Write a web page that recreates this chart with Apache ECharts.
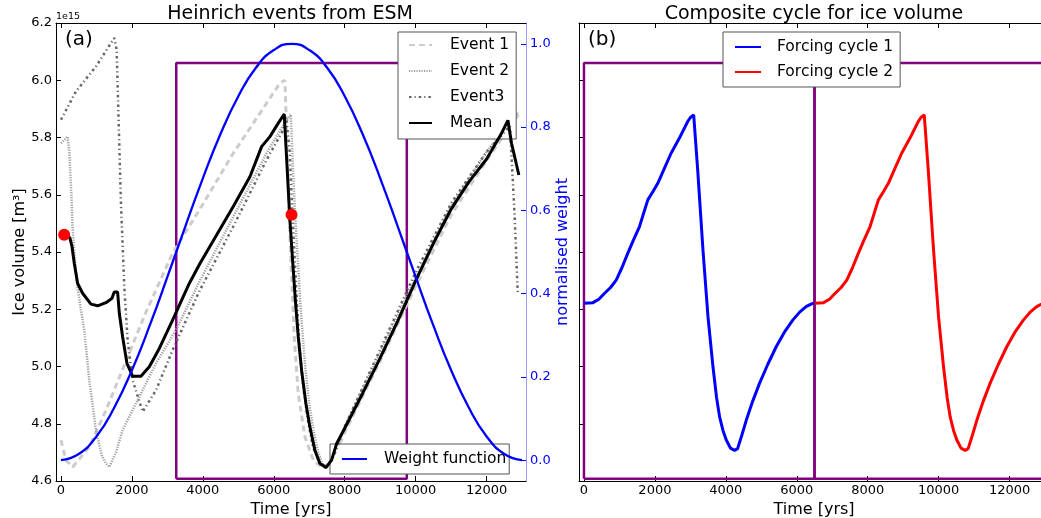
<!DOCTYPE html>
<html>
<head>
<meta charset="utf-8">
<script src="https://cdn.jsdelivr.net/npm/echarts@6/dist/echarts.min.js"></script>
<style>
html,body{margin:0;padding:0;background:#fff;}
#chart{width:1041px;height:518px;}
</style>
</head>
<body>
<div id="chart"></div>
<script>
// ---- Data (ice volume in units of 1e15 m^3, time in years) ----
const xTicks = [0, 2000, 4000, 6000, 8000, 10000, 12000];
const weightTicks = [0, 0.2, 0.4, 0.6, 0.8, 1.0];

const event1Time = [0,141,330,798,1268,1738,2396,2678,3147,3918,4857,5797,6172,6313,6341,6407,6474,6576,6689,6877,7112,7394,7650,8000,9000,10000,11000,12000,12500,12900];
const event1Ice  = [4.743,4.673,4.649,4.719,4.847,4.99,5.19,5.267,5.396,5.55,5.745,5.92,5.99,6.0,5.897,5.629,5.396,5.104,4.906,4.754,4.673,4.643,4.675,4.77,5.02,5.28,5.53,5.72,5.81,5.88];

const event2Time = [0,190,235,300,330,440,560,657,798,986,1150,1268,1362,1550,1738,2207,2678,3241,3918,4857,5797,6200,6480,6540,6610,6680,6750,6820,6900,7000,7100,7230,7350,7480,7700,8000,9000,10000,11000,12000,12500,12900];
const event2Ice  = [5.78,5.803,5.75,5.58,5.477,5.302,5.2,5.127,4.952,4.778,4.69,4.661,4.649,4.70,4.778,4.894,5.011,5.127,5.3,5.523,5.745,5.83,5.88,5.69,5.51,5.37,5.22,5.10,4.98,4.87,4.79,4.71,4.665,4.645,4.69,4.79,5.05,5.31,5.56,5.75,5.83,5.89];

const event3Time = [0,423,987,1503,1569,1625,1691,1785,1879,2020,2302,2678,3147,3617,3918,4857,5797,6266,6350,6450,6500,6560,6640,6720,6830,6950,7100,7300,7500,7700,8000,9000,10000,11000,12000,12656,12700,12795,12880];
const event3Ice  = [5.862,5.961,6.048,6.148,6.107,5.862,5.57,5.279,5.092,4.952,4.842,4.917,5.057,5.186,5.267,5.489,5.722,5.827,5.87,5.75,5.6,5.45,5.25,5.08,4.93,4.82,4.72,4.66,4.65,4.69,4.79,5.06,5.33,5.57,5.75,5.84,5.74,5.512,5.25];

const meanTime = [0,150,250,310,376,470,610,845,1034,1268,1437,1503,1597,1645,1738,1860,2020,2255,2490,2772,3147,3617,3918,4857,5327,5656,5891,6100,6294,6379,6454,6529,6614,6689,6783,6905,7018,7159,7300,7469,7629,7770,8004,8500,9000,9500,10000,10500,11000,11500,12000,12421,12600,12702,12909];
const meanIce  = [5.46,5.458,5.45,5.42,5.36,5.29,5.256,5.218,5.212,5.223,5.238,5.26,5.26,5.186,5.104,5.011,4.966,4.966,4.999,5.063,5.162,5.29,5.36,5.559,5.663,5.768,5.803,5.845,5.882,5.687,5.512,5.372,5.221,5.104,4.987,4.871,4.789,4.707,4.661,4.647,4.673,4.73,4.785,4.905,5.03,5.16,5.3,5.43,5.55,5.645,5.725,5.815,5.86,5.78,5.669];

const markerTime = [90, 6500];
const markerIce  = [5.46, 5.53];

const weightTime = [0,500,1000,1500,2000,2500,3000,3500,4000,4500,5000,5500,6000,6500,7000,7500,8000,8500,9000,9500,10000,10500,11000,11500,12000,12500,13000];
const weightValue = [0,0.015,0.057,0.126,0.216,0.323,0.44,0.56,0.677,0.784,0.874,0.943,0.985,1.0,0.985,0.943,0.874,0.784,0.677,0.56,0.44,0.323,0.216,0.126,0.057,0.015,0];

const windowATime = [3250,3250,9750,9750,3250];
const windowAIce  = [4.608,6.06,6.06,4.608,4.608];
const windowB1Time = [0,0,6500,6500,0];
const windowB2Time = [6500,6500,13000,13000,6500];
const windowBIce  = [4.608,6.06,6.06,4.608,4.608];

const cycle1Time = [0,253,420,582,750,909,1070,1237,1400,1566,1800,1950,2081,2270,2456,2691,2925,3000,3093,3206,3355,3496,3637,3740,3824,3920,4012,4130,4246,4331,4450,4575,4760,4949,5180,5419,5650,5886,6080,6262,6400,6500];
const cycle1Ice  = [5.221,5.223,5.235,5.256,5.276,5.302,5.345,5.396,5.443,5.489,5.582,5.612,5.64,5.693,5.745,5.798,5.856,5.87,5.879,5.687,5.407,5.174,4.999,4.89,4.824,4.776,4.743,4.715,4.707,4.713,4.76,4.812,4.88,4.941,5.007,5.069,5.12,5.162,5.19,5.209,5.218,5.222];
const cycle2Time = [6500,6753,6920,7082,7250,7409,7570,7737,7900,8066,8300,8450,8581,8770,8956,9191,9425,9500,9593,9706,9855,9996,10137,10240,10324,10420,10512,10630,10746,10831,10950,11075,11260,11449,11680,11919,12150,12386,12580,12762,12900,13000];
const cycle2Ice  = [5.221,5.223,5.235,5.256,5.276,5.302,5.345,5.396,5.443,5.489,5.582,5.612,5.64,5.693,5.745,5.798,5.856,5.87,5.879,5.687,5.407,5.174,4.999,4.89,4.824,4.776,4.743,4.715,4.707,4.713,4.76,4.812,4.88,4.941,5.007,5.069,5.12,5.162,5.19,5.209,5.218,5.222];

// ---- Build ----
const zip = (a, b) => a.map((x, i) => [x, b[i]]);
const FONT = 'DejaVu Sans';
const XMIN = -140, XMAX = 13110;

function xAxisDef(grid, pos, labels) {
  return {
    type: 'value', gridIndex: grid, position: pos, min: XMIN, max: XMAX,
    splitLine: {show: false},
    axisLine: {show: true, onZero: false, lineStyle: {color: '#000', width: 1}},
    axisTick: {show: true, inside: true, length: 5, customValues: xTicks, lineStyle: {color: '#000'}},
    axisLabel: {show: labels, customValues: xTicks, fontFamily: FONT, fontSize: 13, color: '#000', margin: 3,
                formatter: v => String(Math.round(v))},
    name: labels ? 'Time [yrs]' : '', nameLocation: 'middle', nameGap: 18,
    nameTextStyle: {fontFamily: FONT, fontSize: 16, color: '#000'}
  };
}

const legendCommon = {
  orient: 'vertical', backgroundColor: '#fff', borderColor: '#555', borderWidth: 1, borderRadius: 0,
  itemStyle: {opacity: 0}, selectedMode: false
};

const chart = echarts.init(document.getElementById('chart'), null, {renderer: 'canvas'});
const option = {
  animation: false,
  backgroundColor: '#fff',
  grid: [
    {left: 56, top: 23, width: 470, height: 458, containLabel: false, outerBoundsMode: 'none'},
    {left: 579, top: 23, width: 470, height: 458, containLabel: false, outerBoundsMode: 'none'}
  ],
  xAxis: [
    xAxisDef(0, 'bottom', true),
    xAxisDef(0, 'top', false),
    xAxisDef(1, 'bottom', true),
    xAxisDef(1, 'top', false)
  ],
  yAxis: [
    {
      type: 'value', gridIndex: 0, position: 'left', min: 4.6, max: 6.2, interval: 0.2,
      splitLine: {show: false},
      axisLine: {show: true, onZero: false, lineStyle: {color: '#000'}},
      axisTick: {show: true, inside: true, length: 5, lineStyle: {color: '#000'}},
      axisLabel: {fontFamily: FONT, fontSize: 13, color: '#000', margin: 4, formatter: v => v.toFixed(1)},
      name: 'Ice volume [m³]', nameLocation: 'middle', nameRotate: 90, nameGap: 28,
      nameTextStyle: {fontFamily: FONT, fontSize: 16, color: '#000'}
    },
    {
      type: 'value', gridIndex: 0, position: 'right', min: -0.05, max: 1.05,
      splitLine: {show: false},
      axisLine: {show: true, onZero: false, lineStyle: {color: '#9999ff'}},
      axisTick: {show: true, inside: true, length: 5, customValues: weightTicks, lineStyle: {color: '#0000ff'}},
      axisLabel: {customValues: weightTicks, fontFamily: FONT, fontSize: 13, color: '#0000ff', margin: 4, formatter: v => v.toFixed(1)},
      name: 'normalised weight', nameLocation: 'middle', nameRotate: 90, nameGap: 29,
      nameTextStyle: {fontFamily: FONT, fontSize: 16, color: '#0000ff'}
    },
    {
      type: 'value', gridIndex: 1, position: 'left', min: 4.6, max: 6.2, interval: 0.2,
      splitLine: {show: false},
      axisLine: {show: true, onZero: false, lineStyle: {color: '#000'}},
      axisTick: {show: true, inside: true, length: 5, lineStyle: {color: '#000'}},
      axisLabel: {show: false}
    }
  ],
  legend: [
    Object.assign({}, legendCommon, {
      data: ['Event 1', 'Event 2', 'Event3', 'Mean'],
      left: 398, top: 32,
      padding: [5, 7, 8, 10], itemGap: 10, itemWidth: 23, itemHeight: 14,
      textStyle: {fontFamily: FONT, fontSize: 15.5, color: '#000', padding: [0, 0, 0, 13]}
    }),
    Object.assign({}, legendCommon, {
      data: ['Weight function'],
      left: 330, top: 444,
      padding: [7, 3, 7, 11], itemWidth: 25, itemHeight: 14,
      textStyle: {fontFamily: FONT, fontSize: 15.5, color: '#000', padding: [0, 0, 0, 12]}
    }),
    Object.assign({}, legendCommon, {
      data: ['Forcing cycle 1', 'Forcing cycle 2'],
      left: 723, top: 32,
      padding: [7, 7, 7, 11], itemGap: 9, itemWidth: 26, itemHeight: 14,
      textStyle: {fontFamily: FONT, fontSize: 15.5, color: '#000', padding: [0, 0, 0, 11]}
    })
  ],
  graphic: [
    {type: 'text', x: 290, y: 14, style: {text: 'Heinrich events from ESM', fontFamily: FONT, fontSize: 19, fill: '#000', align: 'center', verticalAlign: 'middle'}},
    {type: 'text', x: 814, y: 14, style: {text: 'Composite cycle for ice volume', fontFamily: FONT, fontSize: 19, fill: '#000', align: 'center', verticalAlign: 'middle'}},
    {type: 'text', x: 65, y: 40, style: {text: '(a)', fontFamily: FONT, fontSize: 20, fill: '#000', align: 'left', verticalAlign: 'middle'}},
    {type: 'text', x: 588, y: 40, style: {text: '(b)', fontFamily: FONT, fontSize: 20, fill: '#000', align: 'left', verticalAlign: 'middle'}},
    {type: 'text', x: 56, y: 17, style: {text: '1e15', fontFamily: FONT, fontSize: 9.5, fill: '#000', align: 'left', verticalAlign: 'middle'}}
  ],
  series: [
    {name: 'windowA', type: 'line', xAxisIndex: 0, yAxisIndex: 0, symbol: 'none', data: zip(windowATime, windowAIce),
     lineStyle: {color: '#800080', width: 2.5}, z: 1},
    {name: 'Event 1', type: 'line', xAxisIndex: 0, yAxisIndex: 0, symbol: 'none', data: zip(event1Time, event1Ice),
     lineStyle: {color: '#cccccc', width: 3, type: [6, 4]}, itemStyle: {color: '#cccccc'}, z: 2},
    {name: 'Event 2', type: 'line', xAxisIndex: 0, yAxisIndex: 0, symbol: 'none', data: zip(event2Time, event2Ice),
     lineStyle: {color: '#a0a0a0', width: 2.5, type: [1.2, 1.3]}, itemStyle: {color: '#a0a0a0'}, z: 3},
    {name: 'Event3', type: 'line', xAxisIndex: 0, yAxisIndex: 0, symbol: 'none', data: zip(event3Time, event3Ice),
     lineStyle: {color: '#666666', width: 2.5, type: [2.5, 3, 1.2, 3]}, itemStyle: {color: '#666666'}, z: 4},
    {name: 'Mean', type: 'line', xAxisIndex: 0, yAxisIndex: 0, symbol: 'none', data: zip(meanTime, meanIce),
     lineStyle: {color: '#000', width: 3}, itemStyle: {color: '#000'}, z: 5},
    {name: 'markers', type: 'scatter', xAxisIndex: 0, yAxisIndex: 0, data: zip(markerTime, markerIce),
     symbolSize: 12, itemStyle: {color: '#ff0000', opacity: 1}, z: 6},
    {name: 'Weight function', type: 'line', xAxisIndex: 0, yAxisIndex: 1, symbol: 'none', smooth: true, data: zip(weightTime, weightValue),
     lineStyle: {color: '#0000ff', width: 2.3}, itemStyle: {color: '#0000ff'}, z: 7},
    {name: 'windowB1', type: 'line', xAxisIndex: 2, yAxisIndex: 2, symbol: 'none', data: zip(windowB1Time, windowBIce),
     lineStyle: {color: '#800080', width: 2.5}, z: 1},
    {name: 'windowB2', type: 'line', xAxisIndex: 2, yAxisIndex: 2, symbol: 'none', data: zip(windowB2Time, windowBIce),
     lineStyle: {color: '#800080', width: 2.5}, z: 1},
    {name: 'Forcing cycle 1', type: 'line', xAxisIndex: 2, yAxisIndex: 2, symbol: 'none', data: zip(cycle1Time, cycle1Ice),
     lineStyle: {color: '#0000ff', width: 3}, itemStyle: {color: '#0000ff'}, z: 3},
    {name: 'Forcing cycle 2', type: 'line', xAxisIndex: 2, yAxisIndex: 2, symbol: 'none', data: zip(cycle2Time, cycle2Ice),
     lineStyle: {color: '#ff0000', width: 3}, itemStyle: {color: '#ff0000'}, z: 3}
  ]
};
chart.setOption(option);
</script>
</body>
</html>
